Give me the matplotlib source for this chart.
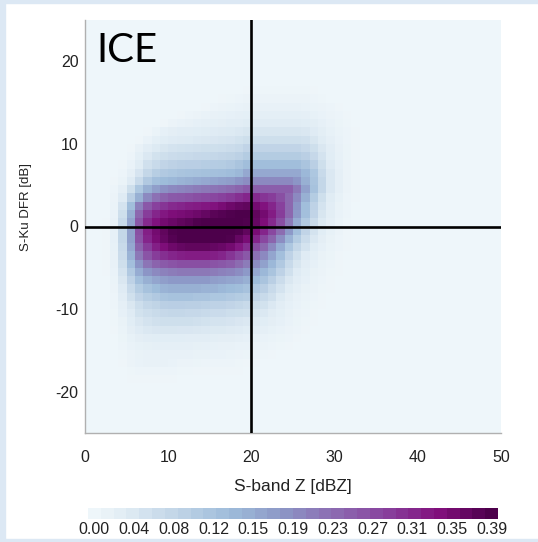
import numpy as np
import matplotlib
matplotlib.use("Agg")
import matplotlib.pyplot as plt
from matplotlib.colors import ListedColormap, Normalize
from matplotlib.patches import Rectangle
from matplotlib.cm import ScalarMappable

# ---------------- data ----------------
x_ticks = [0, 10, 20, 30, 40, 50]
y_ticks = [-20, -10, 0, 10, 20]
cbar_labels = ["0.00", "0.04", "0.08", "0.12", "0.15", "0.19",
               "0.23", "0.27", "0.31", "0.35", "0.39"]
vmax = 0.39

# S-band Z bin left edges (dBZ) for the columns of the density table
z_bin_left = list(range(2, 33))
# S-Ku DFR bin lower edges (dB) for the rows of the density table
dfr_bin_low = list(range(16, -20, -1))
# normalized frequency, in units of 0.01, one row per DFR bin
density_pct = [
    [0]*17 + [0.2] + [0.4]*7 + [0.2] + [0]*5,                                   # 16
    [0]*14 + [0.3, 0.4, 0.5] + [0.8]*8 + [0.6, 0.4] + [0]*4,                     # 15
    [0]*12 + [0.3, 0.6, 0.8, 1.0, 1.2] + [1.4]*7 + [1.2, 1.0, 0.8, 0.5, 0.3, 0, 0],  # 14
    [0]*9 + [0.3, 0.6, 0.9, 1.2, 1.4, 1.6, 1.8, 2.0] + [2.2]*7
        + [2.0, 1.6, 1.2, 0.8, 0.5, 0.3, 0],                                     # 13
    [0]*7 + [0.3, 0.8, 1.2, 1.5, 1.8, 2.0, 2.2, 2.4, 2.6, 2.8] + [3.2]*7
        + [3.0, 2.5, 1.8, 1.2, 0.7, 0.4, 0],                                     # 12
    [0]*5 + [0.3, 1.0, 1.8, 2.3, 2.6, 2.8, 3.0, 3.2, 3.4, 3.6, 3.8, 4.0] + [4.5]*7
        + [4.2, 3.5, 2.5, 1.6, 1.0, 0.5, 0.2],                                   # 11
    [0]*4 + [0.3, 1.2, 2.2, 3.0, 3.4, 3.6, 3.8, 4.0, 4.2, 4.4, 4.6, 4.8, 5.2] + [6.0]*7
        + [5.5, 4.5, 3.2, 2.0, 1.2, 0.6, 0.2],                                   # 10
    [0]*3 + [0.3, 1.5, 2.8, 3.8, 4.5, 5.0, 5.2, 5.4, 5.6, 5.8, 6.0, 6.2, 6.5, 7.0] + [8.0]*7
        + [7.2, 5.8, 4.2, 2.6, 1.5, 0.7, 0.2],                                   # 9
    [0]*3 + [0.6, 2.2, 4.0, 5.2, 6.0, 6.5, 6.8, 7.0, 7.2, 7.4, 7.6, 7.8, 8.2, 8.8] + [10.0]*7
        + [9.0, 7.2, 5.0, 3.0, 1.6, 0.7, 0.2],                                   # 8
    [0]*2 + [0.3, 1.2, 3.2, 5.5, 7.0, 8.0, 8.6, 9.0, 9.2, 9.4, 9.6, 9.8, 10.0, 10.5, 11.5]
        + [13.0]*7 + [11.5, 9.0, 6.0, 3.5, 1.8, 0.8, 0.2],                       # 7
    [0]*2 + [0.5, 2.0, 4.8, 7.5, 9.5, 10.5, 11.0, 11.5, 11.8, 12.0, 12.2, 12.4, 12.6, 13.2, 14.0]
        + [16.0]*7 + [14.0, 11.0, 7.0, 4.0, 2.0, 0.8, 0.2],                      # 6
    [0, 0.3, 1.0, 3.5, 7.0, 10.5, 12.5, 13.5, 14.0, 14.5, 15.0, 15.5, 16.0, 16.5, 17.0, 17.5,
        18.5, 19.5] + [20.0]*5 + [18.5, 15.0, 11.5, 7.5, 4.0, 2.0, 0.8, 0.2],    # 5
    [0, 0.5, 2.0, 6.0, 11.0, 15.0, 17.5, 19.0, 20.0, 20.5, 21.0, 21.5, 22.0, 22.5, 23.0, 23.5,
        24.5, 25.5] + [25.0]*5 + [22.0, 17.0, 12.0, 7.5, 4.0, 2.0, 0.8, 0.2],    # 4
    [0, 0.8, 3.5, 9.0, 15.0, 20.0, 23.0, 24.5, 25.5, 26.0, 26.5, 27.0, 27.5, 28.0, 28.5, 29.5,
        30.5, 31.5, 31.0, 30.0, 29.0, 27.0, 24.0, 20.0, 15.0, 10.0, 6.0, 3.2, 1.6, 0.6, 0.2],  # 3
    [0, 1.0, 5.0, 13.0, 21.0, 26.0, 28.5, 30.0, 31.0, 31.5, 32.0, 32.5, 33.0, 33.5, 34.5, 35.5,
        36.5, 37.0, 35.0, 33.5, 31.5, 28.5, 24.0, 18.5, 13.0, 8.5, 5.0, 2.8, 1.3, 0.5, 0.1],   # 2
    [0, 1.2, 6.0, 15.0, 24.0, 29.0, 31.5, 33.0, 34.0, 34.5, 35.0, 35.5, 36.5, 37.5, 38.0, 38.5,
        39.0, 39.0, 37.0, 35.0, 32.5, 29.0, 24.0, 18.0, 12.5, 8.0, 4.5, 2.5, 1.2, 0.5, 0.1],   # 1
    [0.2, 1.5, 7.0, 16.5, 26.0, 31.0, 33.5, 35.0, 36.0, 37.0, 37.5, 38.5, 39.0, 39.0, 39.0, 39.0,
        39.0, 38.5, 36.5, 34.0, 31.0, 27.0, 21.5, 15.5, 10.5, 6.5, 3.8, 2.0, 1.0, 0.4, 0.1],   # 0
    [0.2, 1.8, 7.5, 17.0, 27.0, 32.0, 35.0, 37.0, 38.5, 39.0, 39.0, 39.0, 39.0, 39.0, 39.0, 39.0,
        38.5, 37.0, 34.5, 31.5, 28.0, 23.5, 18.0, 12.5, 8.0, 5.0, 3.0, 1.6, 0.8, 0.3, 0.1],    # -1
    [0.2, 1.8, 7.5, 17.0, 26.5, 31.5, 34.5, 36.5, 38.0, 39.0, 39.0, 39.0, 39.0, 39.0, 39.0, 38.5,
        36.5, 34.5, 31.5, 28.0, 24.5, 19.5, 14.5, 10.0, 6.5, 4.0, 2.4, 1.3, 0.6, 0.2, 0],      # -2
    [0.2, 1.6, 7.0, 16.0, 24.5, 29.0, 32.0, 34.0, 35.5, 36.5, 37.0, 37.0, 37.0, 36.5, 36.0, 35.0,
        33.0, 30.5, 27.0, 24.0, 20.0, 15.5, 11.0, 7.5, 5.0, 3.0, 1.8, 1.0, 0.5, 0.2, 0],       # -3
    [0.2, 1.5, 6.5, 14.5, 22.0, 26.5, 29.0, 30.5, 31.5, 32.0, 32.5, 32.5, 32.5, 32.0, 31.5, 30.0,
        28.0, 26.0, 23.0, 20.0, 16.5, 12.5, 8.5, 5.5, 3.5, 2.2, 1.3, 0.7, 0.3, 0.1, 0],        # -4
    [0.2, 1.4, 6.0, 12.5, 18.5, 22.5, 24.5, 25.5, 26.5, 27.0, 27.0, 27.0, 27.0, 26.5, 26.0, 25.0,
        23.5, 21.5, 19.5, 17.0, 14.0, 10.5, 7.0, 4.5, 2.8, 1.7, 1.0, 0.5, 0.2, 0.1, 0],        # -5
    [0.2, 1.2, 5.0, 10.5, 15.5, 18.5, 20.0, 21.0, 21.5, 22.0, 22.0, 22.0, 22.0, 21.5, 21.0, 20.5,
        19.5, 18.0, 16.0, 14.0, 11.5, 8.5, 5.5, 3.5, 2.2, 1.3, 0.8, 0.4, 0.2, 0, 0],           # -6
    [0.1, 1.0, 4.2, 8.5, 12.5, 15.0, 16.5, 17.5, 18.0, 18.0, 18.0, 18.0, 18.0, 17.5, 17.0, 16.5,
        16.0, 15.0, 13.5, 11.5, 9.0, 6.5, 4.2, 2.7, 1.7, 1.0, 0.6, 0.3, 0.1, 0, 0],            # -7
    [0.1, 0.8, 3.4, 7.0, 10.0, 12.0, 13.5, 14.5, 15.0, 15.0, 15.0, 15.0, 14.5, 14.5, 14.0, 13.5,
        13.0, 12.0, 10.5, 9.0, 7.0, 5.0, 3.2, 2.0, 1.3, 0.8, 0.4, 0.2, 0.1, 0, 0],             # -8
    [0.1, 0.6, 2.6, 5.5, 8.0, 9.5, 10.5, 11.5, 12.0, 12.0, 12.0, 11.5, 11.5, 11.0, 11.0, 10.5,
        10.0, 9.5, 8.0, 7.0, 5.5, 3.8, 2.4, 1.5, 1.0, 0.6, 0.3, 0.1, 0, 0, 0],                 # -9
    [0, 0.5, 2.0, 4.2, 6.2, 7.5, 8.2, 9.0, 9.2, 9.2, 9.0, 9.0, 8.8, 8.5, 8.5, 8.0,
        7.5, 7.0, 6.0, 5.2, 4.0, 2.8, 1.8, 1.1, 0.7, 0.4, 0.2, 0.1, 0, 0, 0],                  # -10
    [0, 0.4, 1.7, 3.5, 5.2, 6.2, 6.8, 7.3, 7.5, 7.5, 7.3, 7.2, 6.9, 6.6, 6.6, 6.2,
        5.8, 5.5, 4.7, 4.0, 3.1, 2.2, 1.4, 0.9, 0.6, 0.3, 0.1, 0, 0, 0, 0],                    # -11
    [0, 0.4, 1.3, 2.9, 4.2, 5.0, 5.5, 5.9, 6.0, 6.0, 5.8, 5.5, 5.3, 5.0, 5.0, 4.8,
        4.4, 4.1, 3.6, 3.0, 2.3, 1.7, 1.1, 0.7, 0.4, 0.2, 0.1, 0, 0, 0, 0],                    # -12
    [0, 0.3, 1.0, 2.3, 3.4, 4.0, 4.4, 4.5, 4.5, 4.4, 4.3, 4.2, 4.0, 3.9, 3.9, 3.6,
        3.4, 3.0, 2.6, 2.1, 1.6, 1.2, 0.8, 0.5, 0.3, 0.1, 0, 0, 0, 0, 0],                      # -13
    [0, 0.1, 0.7, 1.6, 2.3, 2.7, 2.9, 3.0, 3.0, 2.9, 2.8, 2.7, 2.7, 2.5, 2.4, 2.3,
        2.0, 1.8, 1.6, 1.2, 1.0, 0.7, 0.5, 0.2, 0.1, 0, 0, 0, 0, 0, 0],                        # -14
    [0, 0.1, 0.5, 1.1, 1.6, 1.9, 2.1, 2.1, 2.1, 2.0, 2.0, 1.9, 1.8, 1.6, 1.5, 1.4,
        1.2, 1.1, 1.0, 0.8, 0.6, 0.4, 0.2, 0.1, 0, 0, 0, 0, 0, 0, 0],                          # -15
    [0, 0, 0.4, 0.8, 1.3, 1.4, 1.5, 1.5, 1.5, 1.4, 1.4, 1.3, 1.3, 1.1, 1.1, 1.0,
        0.8, 0.7, 0.6, 0.4, 0.3, 0.1] + [0]*9,                                                 # -16
    [0, 0, 0.3, 0.8, 1.2, 1.4, 1.4, 1.4, 1.2, 0.9, 0.8, 0.7, 0.6, 0.6, 0.5, 0.5,
        0.4, 0.3, 0.2, 0.1] + [0]*11,                                                          # -17
    [0, 0, 0.1, 0.4, 0.6, 0.6, 0.6, 0.6, 0.5, 0.4, 0.4, 0.3, 0.3, 0.3, 0.3, 0.2,
        0.2, 0.1] + [0]*13,                                                                    # -18
    [0, 0, 0, 0.2, 0.2, 0.2, 0.2, 0.2, 0.2, 0.1, 0.1, 0.1, 0.1] + [0]*18,                      # -19
]

# ---------------- build full grid ----------------
x_edges = np.arange(0, 51)
y_edges = np.arange(-25, 26)
grid = np.zeros((len(y_edges) - 1, len(x_edges) - 1))
for ylow, row in zip(dfr_bin_low, density_pct):
    assert len(row) == len(z_bin_left), (ylow, len(row))
    for xl, v in zip(z_bin_left, row):
        grid[ylow + 25, xl] = v / 100.0

# ---------------- colormap ----------------
base = plt.get_cmap("BuPu")
cmap_cont = ListedColormap(base(np.linspace(0.05, 1.0, 256)))
cmap_disc = ListedColormap(base(np.linspace(0.05, 1.0, 32)))
norm = Normalize(vmin=0, vmax=vmax)

# ---------------- figure ----------------
plt.rcParams["font.family"] = ["Liberation Sans", "DejaVu Sans"]
plt.rcParams["axes.unicode_minus"] = False

W, H = 538, 542
fig = plt.figure(figsize=(W / 100, H / 100), dpi=100)
fig.patch.set_facecolor("white")

# screenshot frame strips
frame_col = "#dce8f4"
fig.patches.append(Rectangle((0, 0), 5 / W, 1, transform=fig.transFigure,
                             color=frame_col, zorder=0))
fig.patches.append(Rectangle((0, 1 - 3 / H), 1, 3 / H, transform=fig.transFigure,
                             color=frame_col, zorder=0))
fig.patches.append(Rectangle((0, 0), 1, 3 / H, transform=fig.transFigure,
                             color=frame_col, zorder=0))

ax_l, ax_r, ax_t, ax_b = 85, 501, 20, 433
ax = fig.add_axes([ax_l / W, 1 - ax_b / H, (ax_r - ax_l) / W, (ax_b - ax_t) / H])
ax.pcolormesh(x_edges, y_edges, grid, cmap=cmap_cont, norm=norm, shading="flat")
ax.set_xlim(0, 50)
ax.set_ylim(-25, 25)
ax.axvline(20, color="black", lw=1.9, zorder=3)
ax.axhline(0, color="black", lw=1.9, zorder=3)

ax.set_xticks(x_ticks)
ax.set_yticks(y_ticks)
ax.tick_params(axis="both", length=0, labelsize=11.5, colors="#222222")
ax.tick_params(axis="x", pad=12.5)
ax.tick_params(axis="y", pad=4.5)
for s in ["top", "right"]:
    ax.spines[s].set_visible(False)
for s in ["left", "bottom"]:
    ax.spines[s].set_color("#b0b0b0")
    ax.spines[s].set_linewidth(1.0)

fig.text(292.5 / W, 1 - 491 / H, "S-band Z [dBZ]", ha="center", va="baseline",
         fontsize=12.5, color="#222222")
fig.text(26 / W, 1 - 207 / H, "S-Ku DFR [dB]", ha="center", va="center",
         rotation=90, fontsize=9.5, color="#222222")

fig.text(96 / W, 1 - 62 / H, "ICE", ha="left", va="baseline",
         fontsize=29, color="black", family=["Lato", "DejaVu Sans"])

# ---------------- colorbar ----------------
cb_l, cb_r, cb_t, cb_b = 88, 498, 508, 519
cax = fig.add_axes([cb_l / W, 1 - cb_b / H, (cb_r - cb_l) / W, (cb_b - cb_t) / H])
sm = ScalarMappable(norm=norm, cmap=cmap_disc)
cb = fig.colorbar(sm, cax=cax, orientation="horizontal")
cb.outline.set_visible(False)
n = len(cbar_labels)
tick_pos = [vmax * (0.5 / 32 + i * (31 / 32) / (n - 1)) for i in range(n)]
cb.set_ticks(tick_pos)
cb.set_ticklabels(cbar_labels)
cax.tick_params(length=0, labelsize=11.5, pad=2.5, colors="#222222")

fig.savefig("out.png", dpi=100, facecolor=fig.get_facecolor())
